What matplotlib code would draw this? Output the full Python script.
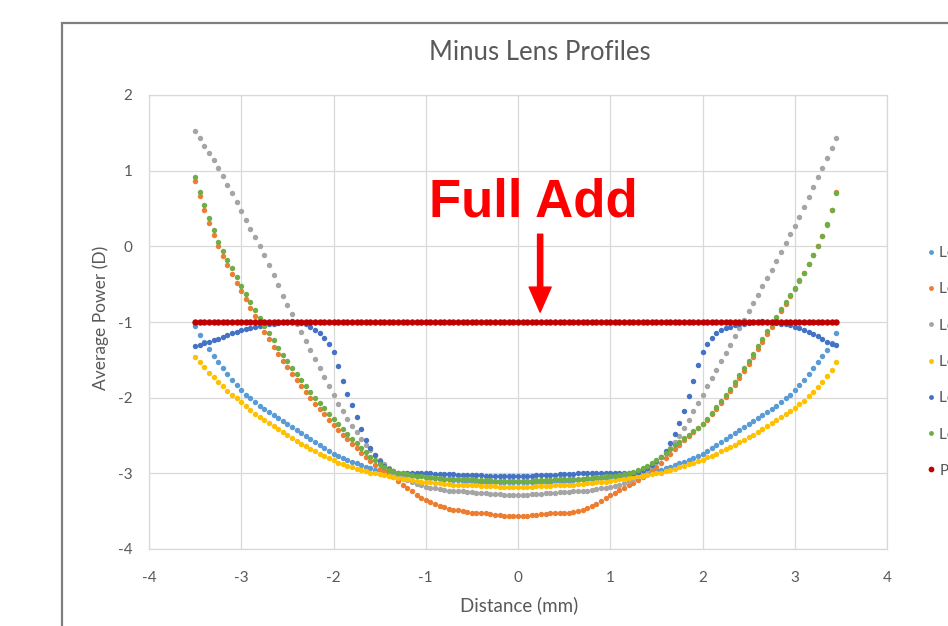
import matplotlib
matplotlib.use("Agg")
import matplotlib.pyplot as plt
from matplotlib.patches import Rectangle

# ---------------- data ----------------
x_mm = [
    -3.50, -3.45, -3.40, -3.35, -3.30, -3.25, -3.20, -3.15, -3.10, -3.05,
    -3.00, -2.95, -2.90, -2.85, -2.80, -2.75, -2.70, -2.65, -2.60, -2.55,
    -2.50, -2.45, -2.40, -2.35, -2.30, -2.25, -2.20, -2.15, -2.10, -2.05,
    -2.00, -1.95, -1.90, -1.85, -1.80, -1.75, -1.70, -1.65, -1.60, -1.55,
    -1.50, -1.45, -1.40, -1.35, -1.30, -1.25, -1.20, -1.15, -1.10, -1.05,
    -1.00, -0.95, -0.90, -0.85, -0.80, -0.75, -0.70, -0.65, -0.60, -0.55,
    -0.50, -0.45, -0.40, -0.35, -0.30, -0.25, -0.20, -0.15, -0.10, -0.05,
    0.00, 0.05, 0.10, 0.15, 0.20, 0.25, 0.30, 0.35, 0.40, 0.45,
    0.50, 0.55, 0.60, 0.65, 0.70, 0.75, 0.80, 0.85, 0.90, 0.95,
    1.00, 1.05, 1.10, 1.15, 1.20, 1.25, 1.30, 1.35, 1.40, 1.45,
    1.50, 1.55, 1.60, 1.65, 1.70, 1.75, 1.80, 1.85, 1.90, 1.95,
    2.00, 2.05, 2.10, 2.15, 2.20, 2.25, 2.30, 2.35, 2.40, 2.45,
    2.50, 2.55, 2.60, 2.65, 2.70, 2.75, 2.80, 2.85, 2.90, 2.95,
    3.00, 3.05, 3.10, 3.15, 3.20, 3.25, 3.30, 3.35, 3.40, 3.45,
]

lens1 = [
    -1.05, -1.17, -1.27, -1.36, -1.45, -1.53, -1.61, -1.69, -1.76, -1.83,
    -1.90, -1.96, -2.01, -2.06, -2.11, -2.15, -2.19, -2.23, -2.27, -2.31,
    -2.35, -2.39, -2.43, -2.47, -2.51, -2.55, -2.59, -2.63, -2.67, -2.70,
    -2.74, -2.77, -2.80, -2.83, -2.85, -2.87, -2.89, -2.91, -2.93, -2.95,
    -2.96, -2.97, -2.98, -2.99, -3.00, -3.01, -3.02, -3.03, -3.03, -3.04,
    -3.05, -3.06, -3.06, -3.07, -3.08, -3.08, -3.09, -3.09, -3.10, -3.10,
    -3.10, -3.11, -3.11, -3.11, -3.11, -3.12, -3.12, -3.12, -3.12, -3.12,
    -3.12, -3.12, -3.12, -3.12, -3.11, -3.11, -3.11, -3.11, -3.10, -3.10,
    -3.10, -3.10, -3.09, -3.09, -3.08, -3.08, -3.07, -3.07, -3.06, -3.06,
    -3.05, -3.04, -3.03, -3.03, -3.02, -3.01, -3.00, -2.99, -2.98, -2.97,
    -2.96, -2.95, -2.93, -2.91, -2.89, -2.87, -2.85, -2.83, -2.80, -2.77,
    -2.74, -2.70, -2.67, -2.63, -2.59, -2.55, -2.51, -2.47, -2.43, -2.39,
    -2.35, -2.31, -2.27, -2.23, -2.19, -2.15, -2.11, -2.06, -2.01, -1.96,
    -1.90, -1.83, -1.76, -1.69, -1.61, -1.53, -1.45, -1.37, -1.28, -1.15,
]

lens2 = [
    0.86, 0.66, 0.48, 0.31, 0.15, 0.00, -0.13, -0.25, -0.37, -0.48,
    -0.59, -0.70, -0.81, -0.92, -1.03, -1.13, -1.23, -1.33, -1.42, -1.51,
    -1.60, -1.69, -1.77, -1.85, -1.93, -2.01, -2.08, -2.15, -2.22, -2.29,
    -2.36, -2.43, -2.49, -2.55, -2.61, -2.67, -2.73, -2.79, -2.84, -2.89,
    -2.94, -2.97, -3.01, -3.05, -3.10, -3.15, -3.20, -3.24, -3.28, -3.32,
    -3.35, -3.38, -3.41, -3.43, -3.45, -3.47, -3.48, -3.49, -3.50, -3.51,
    -3.52, -3.52, -3.53, -3.53, -3.54, -3.55, -3.55, -3.56, -3.56, -3.56,
    -3.57, -3.56, -3.56, -3.55, -3.55, -3.54, -3.54, -3.53, -3.53, -3.53,
    -3.52, -3.52, -3.51, -3.50, -3.48, -3.46, -3.43, -3.40, -3.36, -3.33,
    -3.29, -3.26, -3.22, -3.19, -3.16, -3.13, -3.09, -3.05, -3.01, -2.96,
    -2.91, -2.86, -2.80, -2.74, -2.68, -2.62, -2.56, -2.50, -2.45, -2.40,
    -2.35, -2.29, -2.22, -2.15, -2.07, -1.99, -1.91, -1.83, -1.74, -1.65,
    -1.56, -1.46, -1.36, -1.26, -1.16, -1.06, -0.96, -0.86, -0.76, -0.66,
    -0.56, -0.46, -0.35, -0.24, -0.12, 0.00, 0.13, 0.28, 0.48, 0.72,
]

lens3 = [
    1.52, 1.43, 1.33, 1.23, 1.14, 1.04, 0.93, 0.81, 0.70, 0.58,
    0.47, 0.35, 0.23, 0.12, 0.00, -0.12, -0.25, -0.38, -0.51, -0.65,
    -0.78, -0.90, -1.02, -1.13, -1.25, -1.37, -1.49, -1.61, -1.73, -1.85,
    -1.97, -2.08, -2.18, -2.28, -2.37, -2.46, -2.54, -2.62, -2.69, -2.76,
    -2.82, -2.88, -2.93, -2.98, -3.02, -3.06, -3.09, -3.12, -3.14, -3.16,
    -3.18, -3.19, -3.20, -3.21, -3.22, -3.23, -3.23, -3.24, -3.24, -3.25,
    -3.25, -3.26, -3.26, -3.26, -3.27, -3.27, -3.27, -3.28, -3.28, -3.28,
    -3.28, -3.28, -3.28, -3.27, -3.27, -3.27, -3.26, -3.26, -3.26, -3.25,
    -3.25, -3.25, -3.24, -3.24, -3.23, -3.23, -3.22, -3.21, -3.20, -3.19,
    -3.18, -3.17, -3.15, -3.13, -3.10, -3.07, -3.03, -2.99, -2.95, -2.90,
    -2.85, -2.79, -2.73, -2.66, -2.58, -2.50, -2.40, -2.29, -2.18, -2.07,
    -1.96, -1.85, -1.74, -1.63, -1.52, -1.41, -1.30, -1.19, -1.08, -0.97,
    -0.86, -0.75, -0.64, -0.53, -0.42, -0.31, -0.19, -0.07, 0.05, 0.16,
    0.27, 0.39, 0.52, 0.65, 0.78, 0.91, 1.04, 1.17, 1.30, 1.43,
]

lens4 = [
    -1.46, -1.53, -1.60, -1.67, -1.73, -1.79, -1.85, -1.91, -1.96, -2.01,
    -2.06, -2.11, -2.16, -2.21, -2.25, -2.29, -2.33, -2.37, -2.41, -2.45,
    -2.49, -2.53, -2.57, -2.61, -2.64, -2.68, -2.71, -2.74, -2.77, -2.80,
    -2.83, -2.86, -2.88, -2.90, -2.92, -2.94, -2.96, -2.97, -2.99, -3.00,
    -3.01, -3.02, -3.04, -3.05, -3.06, -3.07, -3.08, -3.09, -3.10, -3.11,
    -3.12, -3.12, -3.13, -3.13, -3.14, -3.14, -3.15, -3.15, -3.15, -3.16,
    -3.16, -3.16, -3.17, -3.17, -3.17, -3.17, -3.18, -3.18, -3.18, -3.18,
    -3.18, -3.18, -3.18, -3.18, -3.17, -3.17, -3.17, -3.17, -3.16, -3.16,
    -3.16, -3.15, -3.15, -3.14, -3.14, -3.13, -3.13, -3.12, -3.12, -3.11,
    -3.10, -3.09, -3.08, -3.07, -3.06, -3.05, -3.04, -3.03, -3.02, -3.01,
    -3.00, -2.99, -2.97, -2.96, -2.94, -2.92, -2.90, -2.88, -2.86, -2.84,
    -2.82, -2.79, -2.77, -2.74, -2.71, -2.68, -2.65, -2.62, -2.59, -2.56,
    -2.52, -2.49, -2.45, -2.42, -2.38, -2.34, -2.30, -2.26, -2.22, -2.18,
    -2.14, -2.09, -2.04, -1.98, -1.92, -1.86, -1.79, -1.72, -1.64, -1.53,
]

lens5 = [
    -1.32, -1.30, -1.28, -1.26, -1.24, -1.22, -1.20, -1.17, -1.15, -1.13,
    -1.11, -1.09, -1.08, -1.06, -1.05, -1.04, -1.03, -1.02, -1.01, -1.00,
    -1.00, -0.99, -1.00, -1.01, -1.03, -1.06, -1.10, -1.15, -1.21, -1.29,
    -1.40, -1.58, -1.78, -1.95, -2.10, -2.25, -2.42, -2.56, -2.67, -2.76,
    -2.84, -2.90, -2.94, -2.97, -2.99, -3.00, -3.00, -3.00, -3.00, -3.00,
    -3.00, -3.00, -3.01, -3.01, -3.01, -3.01, -3.01, -3.02, -3.02, -3.02,
    -3.02, -3.02, -3.02, -3.03, -3.03, -3.03, -3.03, -3.03, -3.03, -3.03,
    -3.03, -3.03, -3.03, -3.03, -3.02, -3.02, -3.02, -3.02, -3.02, -3.01,
    -3.01, -3.01, -3.01, -3.00, -3.00, -3.00, -3.00, -3.00, -3.00, -3.00,
    -3.00, -3.00, -3.00, -3.00, -3.00, -2.99, -2.98, -2.96, -2.93, -2.89,
    -2.84, -2.78, -2.70, -2.60, -2.48, -2.33, -2.17, -1.98, -1.78, -1.57,
    -1.40, -1.29, -1.21, -1.15, -1.11, -1.08, -1.06, -1.04, -1.03, -1.02,
    -1.01, -1.00, -1.00, -0.99, -1.00, -1.00, -1.01, -1.02, -1.03, -1.04,
    -1.06, -1.08, -1.10, -1.13, -1.16, -1.19, -1.22, -1.26, -1.29, -1.30,
]

lens6 = [
    0.92, 0.72, 0.54, 0.37, 0.21, 0.06, -0.06, -0.18, -0.29, -0.41,
    -0.52, -0.63, -0.74, -0.84, -0.95, -1.05, -1.15, -1.24, -1.34, -1.43,
    -1.52, -1.61, -1.69, -1.77, -1.85, -1.93, -2.00, -2.07, -2.14, -2.21,
    -2.28, -2.35, -2.41, -2.48, -2.54, -2.60, -2.66, -2.72, -2.78, -2.83,
    -2.88, -2.92, -2.95, -2.97, -2.99, -3.00, -3.01, -3.02, -3.03, -3.04,
    -3.05, -3.05, -3.06, -3.06, -3.07, -3.07, -3.07, -3.08, -3.08, -3.08,
    -3.08, -3.09, -3.09, -3.09, -3.09, -3.10, -3.10, -3.10, -3.10, -3.10,
    -3.10, -3.10, -3.10, -3.10, -3.09, -3.09, -3.09, -3.09, -3.08, -3.08,
    -3.08, -3.08, -3.07, -3.07, -3.07, -3.06, -3.06, -3.05, -3.05, -3.04,
    -3.04, -3.03, -3.02, -3.01, -3.00, -2.98, -2.96, -2.93, -2.90, -2.86,
    -2.82, -2.78, -2.73, -2.68, -2.63, -2.58, -2.53, -2.49, -2.44, -2.40,
    -2.35, -2.28, -2.20, -2.12, -2.04, -1.96, -1.88, -1.79, -1.70, -1.61,
    -1.52, -1.42, -1.32, -1.22, -1.12, -1.02, -0.93, -0.83, -0.74, -0.64,
    -0.55, -0.45, -0.35, -0.24, -0.12, 0.01, 0.14, 0.29, 0.48, 0.70,
]

plano = [
    -1.0, -1.0, -1.0, -1.0, -1.0, -1.0, -1.0, -1.0, -1.0, -1.0,
    -1.0, -1.0, -1.0, -1.0, -1.0, -1.0, -1.0, -1.0, -1.0, -1.0,
    -1.0, -1.0, -1.0, -1.0, -1.0, -1.0, -1.0, -1.0, -1.0, -1.0,
    -1.0, -1.0, -1.0, -1.0, -1.0, -1.0, -1.0, -1.0, -1.0, -1.0,
    -1.0, -1.0, -1.0, -1.0, -1.0, -1.0, -1.0, -1.0, -1.0, -1.0,
    -1.0, -1.0, -1.0, -1.0, -1.0, -1.0, -1.0, -1.0, -1.0, -1.0,
    -1.0, -1.0, -1.0, -1.0, -1.0, -1.0, -1.0, -1.0, -1.0, -1.0,
    -1.0, -1.0, -1.0, -1.0, -1.0, -1.0, -1.0, -1.0, -1.0, -1.0,
    -1.0, -1.0, -1.0, -1.0, -1.0, -1.0, -1.0, -1.0, -1.0, -1.0,
    -1.0, -1.0, -1.0, -1.0, -1.0, -1.0, -1.0, -1.0, -1.0, -1.0,
    -1.0, -1.0, -1.0, -1.0, -1.0, -1.0, -1.0, -1.0, -1.0, -1.0,
    -1.0, -1.0, -1.0, -1.0, -1.0, -1.0, -1.0, -1.0, -1.0, -1.0,
    -1.0, -1.0, -1.0, -1.0, -1.0, -1.0, -1.0, -1.0, -1.0, -1.0,
    -1.0, -1.0, -1.0, -1.0, -1.0, -1.0, -1.0, -1.0, -1.0, -1.0,
]

series_names = ["Lens 1", "Lens 2", "Lens 3", "Lens 4", "Lens 5", "Lens 6", "Plano"]
x_ticks = [-4, -3, -2, -1, 0, 1, 2, 3, 4]
y_ticks = [-4, -3, -2, -1, 0, 1, 2]

# ---------------- style ----------------
colors = ["#5B9BD5", "#ED7D31", "#A5A5A5", "#FFC000", "#4472C4", "#70AD47", "#C00000"]
sizes = [3.9, 3.9, 3.9, 3.9, 3.9, 3.9, 4.6]
FONT = ["Lato", "DejaVu Sans"]
TXT = "#595959"

fig = plt.figure(figsize=(9.48, 6.26), dpi=100)
fig.patch.set_facecolor("white")

# outer chart border (extends beyond the right/bottom edge as in the screenshot)
fig.patches.append(Rectangle((62 / 948, -0.2), 1.2, 1.2 - 23 / 626,
                             transform=fig.transFigure, fill=False,
                             edgecolor="#7F7F7F", lw=1.6, clip_on=False))

ax = fig.add_axes([149 / 948, 1 - 549 / 626, (887 - 149) / 948, (549 - 95) / 626])

all_series = [lens1, lens2, lens3, lens4, lens5, lens6, plano]
for vals, name, c, s in zip(all_series, series_names, colors, sizes):
    ax.plot(x_mm, vals, linestyle="none", marker="o", ms=s, mfc=c, mec="none",
            label=name, zorder=3)

ax.set_xlim(-4, 4)
ax.set_ylim(-4, 2)
ax.set_xticks(x_ticks)
ax.set_yticks(y_ticks)
ax.set_xticklabels([str(v) for v in x_ticks], family=FONT, fontsize=11, color=TXT)
ax.set_yticklabels([str(v) for v in y_ticks], family=FONT, fontsize=11, color=TXT)
ax.tick_params(axis="both", length=0)
ax.tick_params(axis="x", pad=16)
ax.tick_params(axis="y", pad=12)
ax.grid(True, color="#D9D9D9", lw=0.9, zorder=0)
ax.set_axisbelow(True)
for sp in ax.spines.values():
    sp.set_color("#D9D9D9")
    sp.set_linewidth(0.9)

fig.text(540 / 948, 1 - 53 / 626, "Minus Lens Profiles", ha="center", va="center",
         family=FONT, fontsize=18.5, color=TXT)
fig.text(519 / 948, 1 - 605 / 626, "Distance (mm)", ha="center", va="center",
         family=FONT, fontsize=13.5, color=TXT)
fig.text(101 / 948, 1 - 318 / 626, "Average Power (D)", ha="center", va="center",
         rotation=90, family=FONT, fontsize=12.5, color=TXT)

# annotation
ax.text(0.17, 0.58, "Full Add", ha="center", va="center", color="#FF0000",
        fontsize=38, fontweight="bold", family=["Liberation Sans", "DejaVu Sans"], zorder=5)
ax.annotate("", xy=(0.24, -0.87), xytext=(0.24, 0.16),
            arrowprops=dict(arrowstyle="simple,head_length=0.82,head_width=0.72,tail_width=0.17",
                            color="#FF0000", mutation_scale=22, shrinkA=0, shrinkB=0),
            zorder=5)

leg = ax.legend(loc="upper left", bbox_to_anchor=(926.5 / 948, 1 - 246 / 626),
                bbox_transform=fig.transFigure, frameon=False,
                prop={"family": FONT, "size": 11}, labelcolor=TXT,
                handlelength=0.6, handletextpad=0.25, labelspacing=1.46,
                markerscale=0.9, borderpad=0, borderaxespad=0)

fig.savefig("out.png", dpi=100)
